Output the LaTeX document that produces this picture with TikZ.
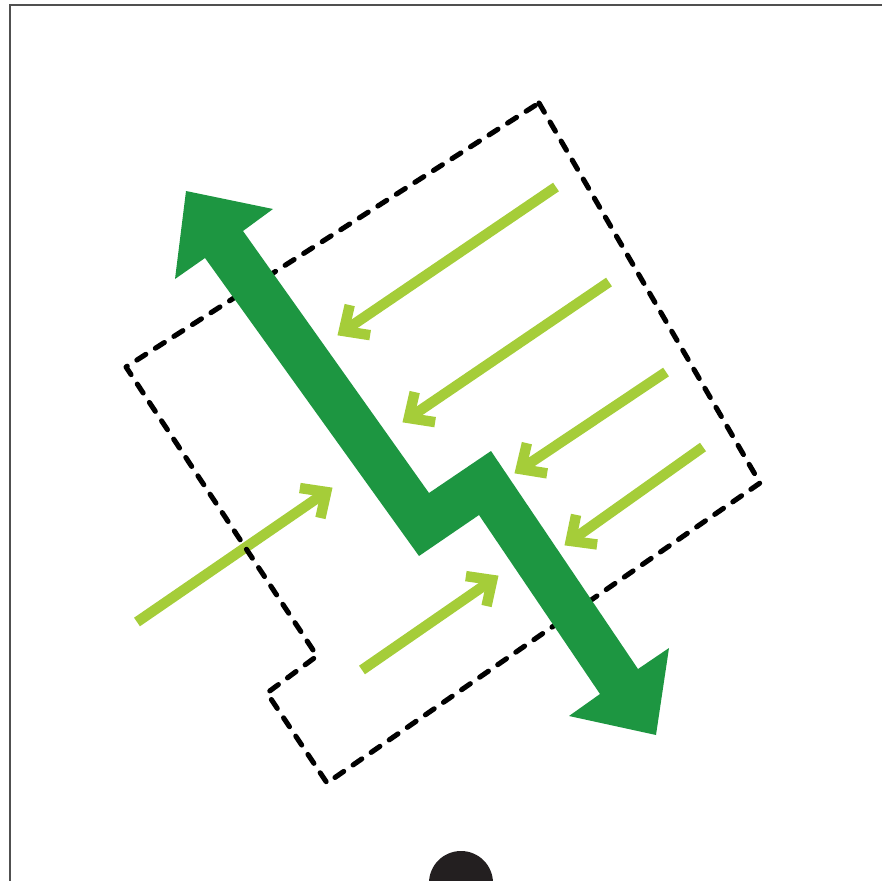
\documentclass[tikz,border=0pt]{standalone}
\usetikzlibrary{calc}
\definecolor{dkgreen}{RGB}{29,150,65}
\definecolor{ltgreen}{RGB}{165,205,57}
\definecolor{framegray}{RGB}{80,80,80}
\definecolor{dotblack}{RGB}{35,31,32}
\tikzset{
  lgshaft/.style={draw=ltgreen, line width=7.8pt, line cap=butt},
  lghead/.style={draw=ltgreen, line width=7.8pt, line cap=butt, line join=miter},
  zone/.style={draw=black, line width=3.8pt, line cap=round, line join=round, dash pattern=on 8pt off 8.5pt},
  bigarrow/.style={fill=dkgreen},
  framestyle/.style={draw=framegray, line width=1.1pt},
}
\newcommand\lgarrow[3]{%
  \coordinate (#1s) at #2;
  \coordinate (#1t) at #3;
  \coordinate (#1v) at ($(#1t)!5.25pt!(#1s)$);
  \draw[lgshaft] (#1s) -- (#1v);
  \draw[lghead] ($(#1v)!20pt!43:(#1s)$) -- (#1v) -- ($(#1v)!20pt!-43:(#1s)$);
}
\begin{document}
\begin{tikzpicture}[x=0.75pt,y=-0.75pt]
\useasboundingbox (0,0) rectangle (882,881);
\begin{scope}
\clip (0,0) rectangle (882,881);
% frame
\draw[framestyle] (10,885) -- (10,5) -- (885,5);
% dot
\fill[dotblack] (461,883) circle (32);
% light green arrows
\lgarrow{a}{(556,187)}{(338,335)}
\lgarrow{b}{(609,282)}{(403,422)}
\lgarrow{c}{(666,372)}{(515,473)}
\lgarrow{d}{(703,447)}{(565,545)}
\lgarrow{e}{(137,622)}{(332,488)}
\lgarrow{f}{(362,670)}{(498,576)}
% dashed zone
\draw[zone] (539,103) -- (760,483) -- (327,783) -- (267,693) -- (317,656) -- (126,367) -- cycle;
% big zigzag arrow
\fill[bigarrow] (186,191) -- (273,209) -- (243,231) -- (429,493) -- (491,451)
  -- (638,669) -- (669,648) -- (656,735) -- (569,716) -- (600,694)
  -- (479,515) -- (419,556) -- (205,258) -- (175,279) -- cycle;
\end{scope}
\end{tikzpicture}
\end{document}
